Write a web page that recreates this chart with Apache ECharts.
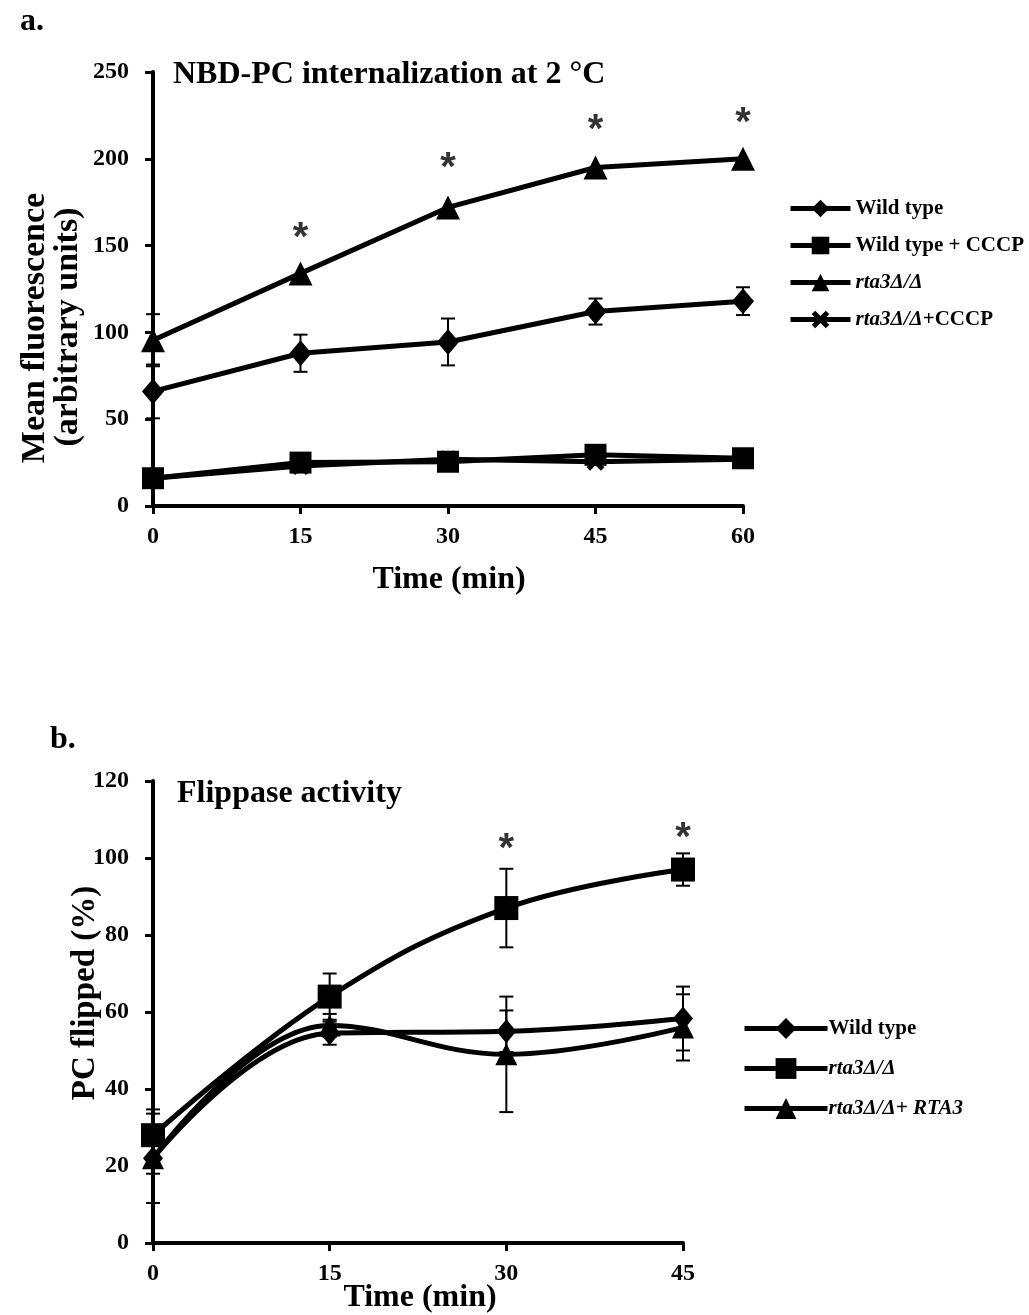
<!DOCTYPE html>
<html>
<head>
<meta charset="utf-8">
<script src="https://cdn.jsdelivr.net/npm/echarts@6/dist/echarts.min.js"></script>
<style>
  html, body { margin: 0; padding: 0; background: #fff; }
  #chart { width: 1029px; height: 1315px; }
</style>
</head>
<body>
<div id="chart"></div>
<script>
// panel a: NBD-PC internalization at 2 °C
const timeA = [0, 15, 30, 45, 60]
const wildTypeA = [66, 88, 94.5, 112, 118]
const wildTypeErrA = [15.5, 10.7, 13.5, 7.5, 8]
const wildTypeCcA = [16, 25, 25.5, 29.5, 27.5]
const rta3A = [95.5, 134, 172, 195, 200]
const rta3ErrA = [15, 0, 0, 0, 0]
const rta3CcA = [16, 23, 27, 25.5, 27]
const starTimeA = [15, 30, 45, 60]
const starA = [154, 194, 216, 220]
const yTicksA = [0, 250, 50]

// panel b: Flippase activity
const timeB = [0, 15, 30, 45]
const wildTypeB = [22, 54.5, 55, 58.3]
const wildTypeErrB = [11.6, 3, 5.4, 8.3]
const rta3B = [28, 64, 87, 97]
const rta3ErrB = [6.7, 6, 10.2, 4.2]
const rescueB = [22, 56.5, 49, 56]
const rescueErrB = [4, 3, 15, 8.6]
const starTimeB = [30, 45]
const starB = [102, 105]
const yTicksB = [0, 120, 20]

const FONT = 'Liberation Serif'
const crossPath = 'path://M0,2 L2,0 L5,3 L8,0 L10,2 L7,5 L10,8 L8,10 L5,7 L2,10 L0,8 L3,5 Z'

const chart = echarts.init(document.getElementById('chart'))

const pairs = (xs, ys) => xs.map((x, i) => [x, ys[i]])
const errRows = (xs, ys, es) => xs.map((x, i) => [x, ys[i] - es[i], ys[i] + es[i]]).filter((r) => r[2] > r[1])

// 误差线
const errorSeries = (gi, xs, ys, es) => ({
  type: 'custom',
  xAxisIndex: gi,
  yAxisIndex: gi,
  silent: true,
  z: 1,
  data: errRows(xs, ys, es),
  renderItem: (params, api) => {
    const top = api.coord([api.value(0), api.value(2)])
    const bot = api.coord([api.value(0), api.value(1)])
    const style = { stroke: '#000', lineWidth: 2 }
    const cap = 7
    return {
      type: 'group',
      children: [
        { type: 'line', shape: { x1: top[0], y1: top[1], x2: bot[0], y2: bot[1] }, style },
        { type: 'line', shape: { x1: top[0] - cap, y1: top[1], x2: top[0] + cap, y2: top[1] }, style },
        { type: 'line', shape: { x1: bot[0] - cap, y1: bot[1], x2: bot[0] + cap, y2: bot[1] }, style },
      ],
    }
  },
})

const lineSeries = (gi, name, xs, ys, symbol, size, smooth) => ({
  name,
  type: 'line',
  xAxisIndex: gi,
  yAxisIndex: gi,
  data: pairs(xs, ys),
  smooth,
  symbol,
  symbolSize: size,
  showAllSymbol: true,
  lineStyle: { color: '#000', width: 5 },
  itemStyle: { color: '#000' },
  z: 2,
})

// 显著性星号
const starSeries = (gi, xs, ys) => ({
  type: 'scatter',
  xAxisIndex: gi,
  yAxisIndex: gi,
  data: pairs(xs, ys),
  symbolSize: 0,
  silent: true,
  label: {
    show: true,
    position: 'inside',
    formatter: '*',
    color: '#000',
    fontFamily: 'Liberation Sans',
    fontWeight: 'bold',
    fontSize: 40,
  },
})

const tickLabel = { color: '#000', fontFamily: FONT, fontWeight: 'bold', fontSize: 24 }
const axisLine = { show: true, lineStyle: { color: '#000', width: 4 } }
const axisTick = { show: true, inside: false, length: 8, lineStyle: { color: '#000', width: 3 } }

const legendRich = {
  b: { fontFamily: FONT, fontWeight: 'bold', fontSize: 21, color: '#000' },
  i: { fontFamily: FONT, fontWeight: 'bold', fontStyle: 'italic', fontSize: 21, color: '#000' },
}
const legendText = {
  'Wild type': '{b|Wild type}',
  'Wild type + CCCP': '{b|Wild type + CCCP}',
  'rta3Δ/Δ': '{i|rta3Δ/Δ}',
  'rta3Δ/Δ+CCCP': '{i|rta3Δ/Δ}{b|+CCCP}',
  'Wild type ': '{b|Wild type}',
  'rta3Δ/Δ ': '{i|rta3Δ/Δ}',
  'rta3Δ/Δ+ RTA3': '{i|rta3Δ/Δ+ RTA3}',
}

const titleText = (text, left, top, size) => ({
  type: 'text',
  left,
  top,
  style: { text, fill: '#000', font: `bold ${size}px "${FONT}"` },
})
const rotText = (text, x, y, size) => ({
  type: 'text',
  x,
  y,
  rotation: Math.PI / 2,
  style: { text, fill: '#000', font: `bold ${size}px "${FONT}"`, align: 'center', verticalAlign: 'middle' },
})
const centerText = (text, x, y, size) => ({
  type: 'text',
  x,
  y,
  style: { text, fill: '#000', font: `bold ${size}px "${FONT}"`, align: 'center', verticalAlign: 'middle' },
})

chart.setOption({
  animation: false,
  backgroundColor: '#fff',
  grid: [
    { left: 153, top: 72, width: 590, height: 434 },
    { left: 153, top: 781, width: 530, height: 462 },
  ],
  xAxis: [
    { gridIndex: 0, type: 'value', min: 0, max: 60, interval: 15, axisLine, axisTick, axisLabel: { ...tickLabel, margin: 19 }, splitLine: { show: false } },
    { gridIndex: 1, type: 'value', min: 0, max: 45, interval: 15, axisLine, axisTick, axisLabel: { ...tickLabel, margin: 19 }, splitLine: { show: false } },
  ],
  yAxis: [
    { gridIndex: 0, type: 'value', min: yTicksA[0], max: yTicksA[1], interval: yTicksA[2], axisLine, axisTick, axisLabel: { ...tickLabel, margin: 24 }, splitLine: { show: false } },
    { gridIndex: 1, type: 'value', min: yTicksB[0], max: yTicksB[1], interval: yTicksB[2], axisLine, axisTick, axisLabel: { ...tickLabel, margin: 24 }, splitLine: { show: false } },
  ],
  legend: [
    {
      data: ['Wild type', 'Wild type + CCCP', 'rta3Δ/Δ', 'rta3Δ/Δ+CCCP'],
      orient: 'vertical',
      left: 783,
      top: 193,
      itemWidth: 60,
      itemHeight: 22,
      itemGap: 16,
      lineStyle: { width: 5 },
      formatter: (n) => legendText[n],
      textStyle: { rich: legendRich },
    },
    {
      data: ['Wild type ', 'rta3Δ/Δ ', 'rta3Δ/Δ+ RTA3'],
      orient: 'vertical',
      left: 737,
      top: 1013,
      itemWidth: 83,
      itemHeight: 26,
      itemGap: 19,
      lineStyle: { width: 5 },
      formatter: (n) => legendText[n],
      textStyle: { rich: legendRich, padding: [0, 0, 0, -4] },
    },
  ],
  graphic: [
    titleText('a.', 20, 6, 32),
    titleText('b.', 50, 724, 32),
    titleText('NBD-PC internalization at 2 °C', 173, 59, 32),
    titleText('Flippase activity', 177, 778, 32),
    rotText('Mean fluorescence', 35, 328, 34),
    rotText('(arbitrary units)', 68, 327, 34),
    rotText('PC flipped (%)', 85, 993, 33),
    centerText('Time (min)', 449, 580, 32),
    centerText('Time (min)', 420, 1298, 32),
  ],
  series: [
    errorSeries(0, timeA, wildTypeA, wildTypeErrA),
    errorSeries(0, timeA, rta3A, rta3ErrA),
    lineSeries(0, 'Wild type', timeA, wildTypeA, 'diamond', [22, 26], false),
    lineSeries(0, 'Wild type + CCCP', timeA, wildTypeCcA, 'rect', 22, false),
    lineSeries(0, 'rta3Δ/Δ', timeA, rta3A, 'triangle', 24, false),
    lineSeries(0, 'rta3Δ/Δ+CCCP', timeA, rta3CcA, crossPath, 18, false),
    starSeries(0, starTimeA, starA),

    errorSeries(1, timeB, wildTypeB, wildTypeErrB),
    errorSeries(1, timeB, rta3B, rta3ErrB),
    errorSeries(1, timeB, rescueB, rescueErrB),
    lineSeries(1, 'Wild type ', timeB, wildTypeB, 'diamond', [20, 24], 0.4),
    lineSeries(1, 'rta3Δ/Δ ', timeB, rta3B, 'rect', 24, 0.4),
    lineSeries(1, 'rta3Δ/Δ+ RTA3', timeB, rescueB, 'triangle', 22, 0.4),
    starSeries(1, starTimeB, starB),
  ],
})
</script>
</body>
</html>
